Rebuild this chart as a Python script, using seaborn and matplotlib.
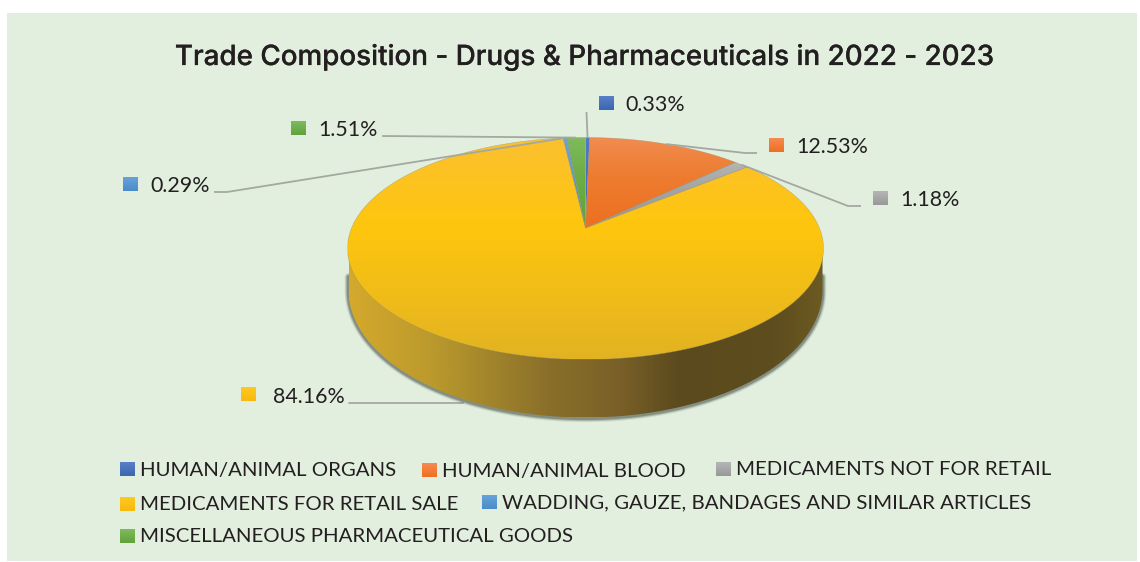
import numpy as np
import matplotlib
matplotlib.use("Agg")
import matplotlib.pyplot as plt
import matplotlib.patheffects as pe
from matplotlib.patches import Polygon, Rectangle
from matplotlib.colors import LinearSegmentedColormap
import seaborn as sns

# ---- data ----
categories = ["HUMAN/ANIMAL ORGANS", "HUMAN/ANIMAL BLOOD", "MEDICAMENTS NOT FOR RETAIL",
              "MEDICAMENTS FOR RETAIL SALE", "WADDING, GAUZE, BANDAGES AND SIMILAR ARTICLES",
              "MISCELLANEOUS PHARMACEUTICAL GOODS"]
shares = [0.33, 12.53, 1.18, 84.16, 0.29, 1.51]
value_labels = ["0.33%", "12.53%", "1.18%", "84.16%", "0.29%", "1.51%"]
title = "Trade Composition - Drugs & Pharmaceuticals in 2022 - 2023"

# light -> dark vertical gradient of each slice
top_colors = ["#4F7CC8", "#F28C50", "#B4B4B4", "#FBC030", "#6AA5DC", "#7FBB5C"]
mid_colors = ["#4472C4", "#ED7D31", "#A5A5A5", "#FFC60E", "#5B9BD5", "#70AD47"]
low_colors = ["#3A66B0", "#EE6F20", "#969696", "#E2B322", "#4A8BC8", "#5FA33A"]
swatch_top = ["#5B82C8", "#F68E55", "#B8B8B8", "#FFCB20", "#6AA5DC", "#82BC60"]
swatch_low = ["#3A66B0", "#EE6F20", "#989898", "#F7B90F", "#4A8BC8", "#5FA33A"]

# ---- layout (pixels of the 1140x562 picture) ----
APEX = (585.5, 228.0)
A, B, K = 233.9, 107.2, 0.1847       # perspective of the disc
BASE_CY, BASE_RX, BASE_RY = 290.0, 237.0, 127.5
label_box = [(599, 96), (769, 138), (873, 191), (241, 387), (123, 177), (291, 121)]
label_txt = [(625, 111), (796, 153), (900, 206), (273, 403), (150, 192), (318, 136)]
legend_box = [(120, 462), (422, 463), (716, 462), (120, 497), (482, 495), (120, 529)]
legend_txt = [(140, 476), (442, 477), (736, 475), (140, 510), (502, 508), (140, 542)]
GREY_LINE = "#A3A9A0"

sns.set_theme(style="white")
fig, ax = plt.subplots(figsize=(11.4, 5.62), dpi=100)
fig.patch.set_facecolor("white")
ax.set_position([0, 0, 1, 1])


def project(theta_deg, r=1.0):
    t = np.radians(theta_deg)
    x, y = r * np.cos(t), r * np.sin(t)
    d = 1 + K * y
    return APEX[0] + A * x / d, APEX[1] - B * y / d


def gradient_fill(poly, colors, stops, horizontal=False, zorder=3):
    ax.add_patch(poly)
    poly.set_zorder(zorder)
    poly.set_facecolor("none")
    poly.set_edgecolor("none")
    xy = poly.get_xy()
    x0, x1, y0, y1 = xy[:, 0].min(), xy[:, 0].max(), xy[:, 1].min(), xy[:, 1].max()
    cm = LinearSegmentedColormap.from_list("g", list(zip(stops, colors)))
    ramp = np.linspace(0, 1, 256)
    arr = ramp[None, :] if horizontal else ramp[:, None]
    im = ax.imshow(arr, cmap=cm, vmin=0, vmax=1, extent=(x0, x1, y1, y0), origin="upper",
                   aspect="auto", interpolation="bilinear", zorder=zorder)
    im.set_clip_path(poly)


# panel
ax.add_patch(Rectangle((7, 13), 1130, 548, fc="#E2EFDE", ec="none", zorder=0))

# the pie: the library computes the slice angles
wedges, _ = ax.pie(shares, startangle=90, counterclock=False, radius=1, center=(0, 0))
angles = [(w.theta1, w.theta2) for w in wedges]
for w in wedges:
    w.remove()

# side wall
phi = np.linspace(0, np.pi, 400)
arc_x = APEX[0] + BASE_RX * np.cos(phi)
arc_y = BASE_CY + BASE_RY * np.sin(phi)
rim_xy = np.r_[np.c_[arc_x, arc_y], [[arc_x[-1], 250], [arc_x[0], 250]]]

# leader of the big slice runs behind the wall
ax.plot([349, 463], [403, 403], color=GREY_LINE, lw=1.3, zorder=1)

sh_x = np.r_[arc_x[0], arc_x, arc_x[-1]]
sh_y = np.r_[276, arc_y, 276]
for lw, al in [(5.5, .12), (4, .22), (2.6, .36)]:
    ax.plot(sh_x, sh_y + 0.8, color="#3C463C", lw=lw, alpha=al, zorder=1.5,
            solid_capstyle="round")

rim_stops = [0, .17, .24, .42, .57, .70, .90, 1]
rim_cols = ["#D4A92C", "#BC9A2C", "#AD8F2C", "#8A6F2A", "#7A6028", "#5A4A1D", "#5E4D1E", "#6C5A22"]
gradient_fill(Polygon(rim_xy, closed=True), rim_cols, rim_stops, horizontal=True, zorder=2)

# top surface
for (t1, t2), c1, c2, c3 in zip(angles, top_colors, mid_colors, low_colors):
    n = max(int(abs(t2 - t1) * 3), 4)
    px, py = project(np.linspace(t1, t2, n))
    verts = np.r_[[APEX], np.c_[px, py]]
    gradient_fill(Polygon(verts, closed=True), [c1, c2, c3], [0, .4, 1], zorder=3)
    ax.add_patch(Polygon(verts, closed=True, fc="none", ec="#8F8F70", lw=0.35, alpha=.6, zorder=3.2))

# leader lines, anchored on the slice rims
mids = [np.mean(a) for a in angles]
bends = {0: [(586.5, 112)],
         1: [(745, 153), (757, 153)],
         2: [(848, 206), (861, 206)],
         4: [(227, 192), (214, 192)],
         5: [(382, 136)]}
for i, pts in bends.items():
    sx, sy = project(mids[i])
    xs = [float(sx)] + [p[0] for p in pts]
    yy = [float(sy)] + [p[1] for p in pts]
    ax.plot(xs, yy, color=GREY_LINE, lw=1.3, zorder=4, solid_capstyle="butt")


def swatch(x, y, i, size=14.5):
    verts = np.array([[x, y], [x + size, y], [x + size, y + size], [x, y + size]])
    gradient_fill(Polygon(verts, closed=True), [swatch_top[i], swatch_low[i]], [0, 1], zorder=5)


INK = "#231F20"
for i, lab in enumerate(value_labels):
    swatch(*label_box[i], i)
    ax.text(*label_txt[i], lab, family="Lato", fontsize=15.4, color=INK, ha="left", va="baseline", zorder=6)

for i, lab in enumerate(categories):
    swatch(*legend_box[i], i)
    ax.text(*legend_txt[i], lab, family="Lato", fontsize=14.7, color=INK, ha="left", va="baseline", zorder=6)

ax.text(584, 65, title, family="Inter", fontsize=20.0, fontweight="medium", color=INK,
        ha="center", va="baseline", zorder=6,
        path_effects=[pe.withStroke(linewidth=0.15, foreground=INK)])

ax.set_aspect("auto")
ax.set_xlim(0, 1140)
ax.set_ylim(562, 0)
ax.axis("off")
fig.savefig("out.png", dpi=100, facecolor="white")
